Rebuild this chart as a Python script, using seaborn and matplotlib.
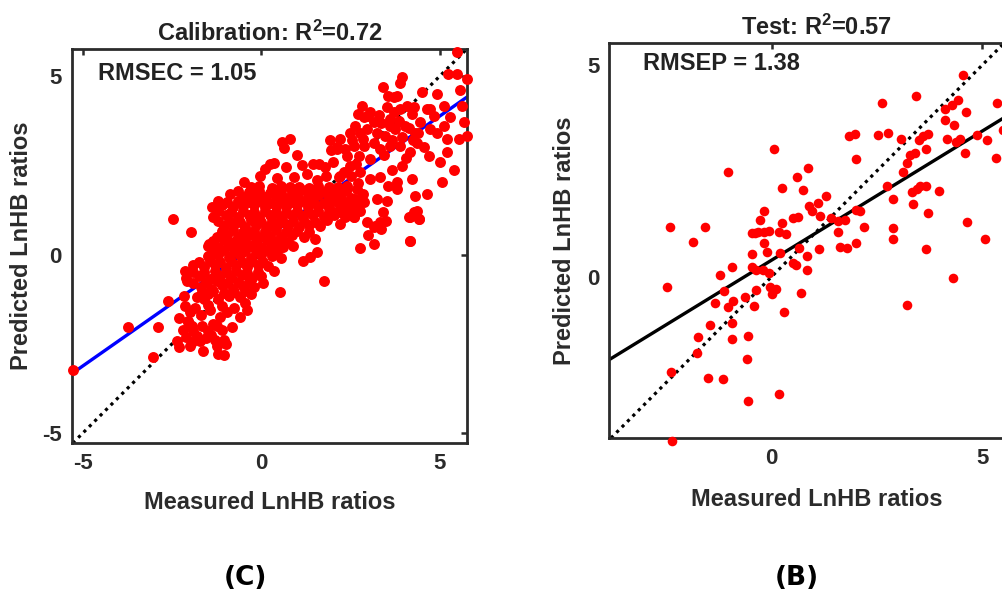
import pandas as pd
import matplotlib
matplotlib.use('Agg')
import matplotlib.pyplot as plt
import seaborn as sns

# Calibration set (left panel): measured vs predicted LnHB ratios
cal_measured = [
    -5.28, -3.72, -2.89, -3.03, -2.62, -2.47, -1.96, -1.47, -2.13, -2.08,
    -2.30, -2.00, -1.62, -1.25, -1.00, -1.22, -1.05, -2.36,
    -2.10, -1.80, -1.55, -1.30, -1.05, -1.71,
    -2.05, -1.90, -1.48, -1.25, -0.82, -1.94,
    -2.31, -2.04, -1.70, -1.34, -1.15, -0.95, -1.45,
    -2.15, -1.85, -1.50, -1.10, -0.75, -0.45, -0.40,
    -2.17, -1.80, -1.50, -1.20, -0.90, -0.60, -0.30, 0.53,
    -1.70, -1.40, -1.10, -0.80, -0.50, -0.20, 0.05, 1.75,
    -2.10, -1.75, -1.45, -1.15, -0.85, -0.55, -0.25, 0.00, 0.35,
    -1.90, -1.60, -1.30, -1.00, -0.70, -0.40, -0.10, 0.20,
    -1.50, -1.20, -0.90, -0.60, -0.30, 0.00, 0.30, 0.55, 1.17, 1.37, 1.56,
    -1.50, -1.20, -0.90, -0.60, -0.30, 0.00, 0.30, 0.60, 0.90,
    -1.25, -0.95, -0.65, -0.35, -0.05, 0.25, 0.55, 0.85, 1.20, 1.50,
    -1.05, -0.75, -0.45, -0.15, 0.15, 0.45, 0.75, 1.05, 1.35, 1.65, 2.20,
    -1.35, -1.00, -0.65, -0.35, -0.05, 0.25, 0.55, 0.85, 1.15, 1.45, 1.75, 2.05, 2.35, 2.60,
    -1.38, -1.10, -0.80, -0.50, -0.20, 0.10, 0.40, 0.70, 1.00, 1.30, 1.60, 1.90, 2.20, 2.50, 2.77,
    -0.87, -0.50, -0.20, 0.10, 0.40, 0.70, 1.00, 1.30, 1.60, 1.90, 2.20, 2.50,
    -0.30, -0.05, 0.30, 0.55, 0.80, 1.05, 1.35, 1.60, 1.90, 2.15, 2.40,
    -0.49, -0.03, 0.45, 0.91, 1.28, 1.55, 1.80, 2.17, 2.31,
    0.58, 0.81, 0.64, 1.00, 0.25, 0.35, 1.45, 1.61, 1.79, 1.92, 2.12, 1.94,
    2.77, 3.15, 4.16, 3.00, 3.19, 3.48, 3.34, 4.18, 4.41, 4.27, 2.59,
    2.82, 3.05, 2.87, 3.15, 2.63, 2.49, 2.77, 2.96, 3.24, 3.52,
    3.71, 3.61, 3.90, 4.08, 4.22, 4.03, 3.75, 3.47, 3.15, 2.87,
    2.59, 2.21, 2.12, 2.40, 2.73, 3.05, 3.33, 3.61, 3.90, 4.18,
    4.36, 4.32, 4.46, 4.64, 4.92, 4.50, 4.83, 5.11, 5.30, 5.11,
    4.92, 4.74, 5.20, 5.53, 5.67, 5.76, 5.62, 5.20, 5.39, 5.06,
    4.64, 4.22, 4.32, 4.36, 4.13, 4.41, 4.18, 3.52, 3.42, 3.24,
    3.80, 3.56, 3.33, 3.66, 3.80, 3.94, 3.05, 2.77, 2.49, 2.21,
    2.40, 2.68, 2.87, 2.59, 2.96, 3.15, 3.33, 2.12, 2.02, 2.31,
    5.48, 5.24, 5.48, 5.76, 3.94, 3.90, 3.42, 3.56, 3.80, 5.58, 3.71, 4.27, 4.74,
    -0.65, -0.35, -0.05, 0.25, 0.55, 0.85, 1.15, 1.45, 1.75, 2.05, 2.35,
    -1.20, -0.95, -0.65, -0.35, -0.05, 0.25, 0.55, 0.85, 1.15, 1.45, 1.75, 2.05, 2.35, 2.65,
    -1.20, -0.85, -0.50, -0.20, 0.10, 0.40, 0.70, 1.00, 1.30, 1.60, 1.90, 2.20, 2.45,
    -1.20, -0.90, -0.60, -0.30, 0.00, 0.30, 0.60, 0.90, 1.20, 1.50, 1.85,
    -1.10, -0.80, -0.50, -0.20, 0.10, 0.40, 0.70, 1.00, 1.35,
    -1.35, -1.05, -0.75, -0.45, -0.15, 0.15, 0.45, 0.75,
    -1.35, -1.05, -0.75, -0.45, -0.15, 0.15, 0.45,
    -1.75, -1.45, -1.15, -0.85, -0.55, -0.25, 0.05,
    -1.90, -1.60, -1.30, -1.00, -0.70, -0.40, -0.10,
    -1.55, -1.25, -0.95, -0.65, -0.35,
    -1.65, -1.35, -1.05, -0.75, -0.45,
    2.70, 3.00, 3.30, 3.60, 3.85, 4.15, 4.40, 2.55, 2.85, 3.35,
    3.65, 3.95, 4.25, 4.55, 2.35, 2.65, 3.45, 4.05, 4.70, 5.00,
    -2.20, -1.95, -1.65, -1.40, -1.10, -2.00, -1.60, -1.90, -0.60,
    0.10, 0.70, 1.15, 2.00, 2.50, 2.70, 2.85, 2.62,
]
cal_predicted = [
    -3.23, -2.02, -2.02, -2.86, -1.31, 0.99, 0.63, 0.30, -0.45, -0.73,
    -2.60, -2.55, -2.69, -2.55, -2.50, -2.78, -2.80, -2.41,
    -2.30, -2.27, -2.35, -2.40, -2.38, -2.41,
    -1.90, -2.13, -2.13, -2.00, -2.02, -1.99,
    -1.77, -1.85, -1.70, -1.94, -1.76, -1.60, -1.55,
    -1.43, -1.50, -1.40, -1.45, -1.50, -1.35, -1.55,
    -1.15, -1.20, -1.10, -1.25, -1.15, -1.20, -1.10, -1.06,
    -0.90, -0.95, -0.85, -0.95, -0.88, -0.92, -0.80, -0.75,
    -0.65, -0.60, -0.68, -0.60, -0.66, -0.58, -0.65, -0.60, -0.45,
    -0.30, -0.35, -0.30, -0.38, -0.30, -0.35, -0.28, -0.32,
    -0.05, 0.00, -0.08, -0.02, -0.10, 0.00, -0.05, -0.10, -0.17, -0.07, 0.07,
    0.25, 0.20, 0.28, 0.22, 0.25, 0.20, 0.27, 0.22, 0.25,
    0.50, 0.55, 0.50, 0.56, 0.48, 0.53, 0.50, 0.56, 0.50, 0.45,
    0.80, 0.85, 0.78, 0.82, 0.77, 0.84, 0.80, 0.76, 0.83, 0.80, 0.85,
    1.05, 1.10, 1.05, 1.12, 1.06, 1.10, 1.04, 1.10, 1.07, 1.12, 1.05, 1.10, 1.06, 1.05,
    1.33, 1.38, 1.32, 1.36, 1.40, 1.33, 1.37, 1.32, 1.38, 1.34, 1.36, 1.31, 1.37, 1.33, 1.23,
    1.70, 1.62, 1.65, 1.60, 1.64, 1.58, 1.63, 1.60, 1.66, 1.60, 1.62, 1.58,
    1.88, 1.92, 1.87, 1.93, 1.88, 1.90, 1.86, 1.92, 1.88, 1.90, 1.85,
    2.03, 2.20, 2.15, 2.17, 2.26, 2.10, 2.20, 2.17, 2.31,
    3.15, 3.24, 2.99, 2.80, 2.54, 2.57, 2.54, 2.54, 2.45, 3.20, 3.01, 2.92,
    0.18, 0.30, 0.39, 0.56, 0.81, 0.95, 0.72, 1.05, 1.00, 1.19, 1.05,
    4.17, 3.99, 3.85, 3.71, 3.61, 3.42, 3.42, 3.52, 3.42, 4.13,
    3.99, 3.80, 4.08, 4.17, 3.94, 3.61, 3.52, 3.33, 3.14, 3.05,
    3.05, 3.24, 2.96, 2.77, 2.77, 2.68, 2.96, 3.05, 3.05, 2.87,
    3.14, 3.42, 3.71, 4.08, 4.50, 4.55, 3.89, 4.17, 3.85, 3.61,
    3.42, 3.52, 3.24, 3.24, 3.71, 3.33, 4.17, 2.87, 2.36, 2.03,
    1.70, 2.12, 1.65, 1.23, 1.04, 0.99, 0.38, 1.51, 1.18, 1.56,
    1.84, 1.93, 2.17, 2.36, 2.03, 2.49, 2.12, 2.30, 2.49, 2.21,
    1.93, 1.84, 1.46, 1.27, 0.90, 0.76, 0.90, 1.56, 1.18, 1.18,
    5.67, 5.07, 5.06, 4.92, 4.97, 4.80, 4.69, 4.45, 4.45, 4.60, 4.41, 4.13, 4.08,
    1.78, 1.74, 1.79, 1.73, 1.77, 1.75, 1.80, 1.74, 1.76, 1.72, 1.78,
    1.49, 1.46, 1.50, 1.47, 1.51, 1.45, 1.49, 1.46, 1.50, 1.48, 1.45, 1.50, 1.47, 1.44,
    1.21, 1.18, 1.23, 1.19, 1.22, 1.20, 1.17, 1.22, 1.19, 1.23, 1.20, 1.18, 1.21,
    0.93, 0.95, 0.91, 0.96, 0.92, 0.94, 0.90, 0.95, 0.93, 0.91, 0.96,
    0.66, 0.68, 0.64, 0.67, 0.65, 0.69, 0.64, 0.66, 0.62,
    0.38, 0.40, 0.36, 0.39, 0.37, 0.41, 0.38, 0.35,
    0.10, 0.12, 0.08, 0.11, 0.09, 0.12, 0.10,
    -0.20, -0.18, -0.22, -0.19, -0.21, -0.17, -0.20,
    -0.48, -0.50, -0.46, -0.49, -0.47, -0.51, -0.48,
    -0.77, -0.75, -0.79, -0.76, -0.78,
    -1.05, -1.03, -1.07, -1.04, -1.02,
    3.95, 3.88, 3.90, 3.60, 3.75, 3.55, 3.40, 3.20, 3.25, 3.68,
    3.20, 3.30, 3.20, 3.00, 2.95, 2.55, 2.80, 2.70, 2.75, 2.60,
    -2.10, -2.45, -2.00, -2.25, -2.10, -1.60, -1.25, -0.80, -1.75,
    2.40, 2.45, 2.50, 2.60, 2.20, 2.00, 1.70, 1.55,
]

# Test set (right panel)
test_measured = [
    -2.41, -2.47, -2.39, -2.36, -1.87, -1.59, -1.03, -1.22, -1.12, -0.95,
    -1.35, -1.46, -1.75, -1.78, -1.52, -1.15, -1.04, -0.92, -0.95, -0.95,
    -0.63, -0.55, -0.59, -0.55, -0.42, -0.37, -0.47, -0.36, -0.47, -0.47,
    -0.32, -0.28, -0.18, -0.06, -0.18, -0.12, -0.21, -0.06, -0.04, 0.10,
    0.02, 0.06, 0.18, 0.24, 0.24, 0.34, 0.20, 0.30, 0.51, 0.62,
    0.50, 0.59, 0.69, 0.61, 0.75, 0.87, 0.89, 0.95, 1.11, 1.15,
    0.66, 0.83, 0.83, 1.13, 1.30, 1.40, 1.58, 1.58, 1.74, 1.62,
    1.78, 1.84, 1.97, 2.00, 2.00, 2.09, 2.19, 2.00, 2.61, 2.53,
    2.76, 2.73, 2.88, 2.88, 2.88, 3.21, 3.06, 3.12, 3.20, 3.28,
    3.40, 3.32, 3.36, 3.44, 3.51, 3.67, 3.42, 3.50, 3.59, 3.71,
    3.66, 3.71, 3.66, 3.97, 4.11, 4.12, 4.27, 4.42, 4.33, 4.15,
    4.38, 4.46, 4.58, 4.62, 4.54, 4.64, 4.30, 4.86, 5.11, 5.06,
    5.35, 5.33, 5.49, 0.17, -0.18, -0.40,
]
test_predicted = [
    1.18, -0.24, -2.25, -3.88, 0.81, 1.17, 2.46, 0.04, -0.34, 0.22,
    -0.63, -1.13, -1.43, -1.80, -2.39, -2.41, -0.72, -0.57, -1.10, -1.47,
    -0.47, -1.40, -1.95, -2.93, -0.69, -0.32, 0.22, 0.16, 0.54, 1.02,
    1.06, 1.34, 1.54, 1.08, 0.79, 0.59, 0.16, 0.08, -0.24, -0.28,
    -0.41, 3.01, 1.06, 2.09, 1.26, 1.00, 0.57, -0.83, 1.38, 1.40,
    0.32, 0.28, -0.39, 2.36, 2.05, 2.56, 1.67, 1.54, 1.75, 1.43,
    0.67, 0.49, 0.16, 0.65, 1.91, 1.39, 1.32, 1.06, 1.34, 0.71,
    0.67, 3.33, 3.37, 2.77, 1.58, 1.54, 1.18, 0.79, 4.11, 3.35,
    3.40, 2.14, 1.83, 1.14, 0.88, -0.68, 3.26, 2.46, 2.69, 2.88,
    2.93, 2.01, 1.71, 2.06, 2.13, 2.14, 4.27, 3.23, 3.31, 3.37,
    3.01, 1.51, 0.65, 2.03, 3.96, 3.70, 4.06, 4.18, 3.57, 3.26,
    3.19, 3.25, 2.92, 3.88, 4.75, 1.28, -0.02, 3.35, 3.23, 0.89,
    4.11, 2.80, 3.47, -2.76, 1.06, 1.04,
]

# fitted lines (slope, intercept) as seen in the picture
cal_fit = (0.70, 0.38)
test_fit = (0.61, 0.39)

titles = ['Calibration: R$^2$=0.72', 'Test: R$^2$=0.57']
notes = ['RMSEC = 1.05', 'RMSEP = 1.38']
panel_tags = ['(C)', '(B)']
x_label = 'Measured LnHB ratios'
y_label = 'Predicted LnHB ratios'

sns.set_theme(style='white')
plt.rcParams['font.family'] = ['Liberation Sans', 'DejaVu Sans']
plt.rcParams['font.weight'] = 'bold'
plt.rcParams['mathtext.fontset'] = 'custom'
plt.rcParams['mathtext.rm'] = 'Liberation Sans:bold'
plt.rcParams['mathtext.default'] = 'rm'
plt.rcParams['axes.unicode_minus'] = False

fig = plt.figure(figsize=(10.03, 5.90), dpi=100)
ax1 = fig.add_axes([0.0715, 0.249, 0.394, 0.668])
ax2 = fig.add_axes([0.6075, 0.2576, 0.414, 0.669])


def draw_panel(ax, mx, py, fit, line_color, size, xlim, ylim, ticks, title, note, note_xy):
    ax.axline((0, 0), slope=1, color='black', ls=(0, (1, 1.4)), lw=2.3, zorder=1)
    ax.axline((0, fit[1]), slope=fit[0], color=line_color, lw=2.4, zorder=2)
    df = pd.DataFrame({'measured': mx, 'predicted': py})
    sns.scatterplot(data=df, x='measured', y='predicted', ax=ax, color='#ff0000',
                    s=size, linewidth=0, zorder=3, clip_on=False)
    ax.set_xlim(*xlim)
    ax.set_ylim(*ylim)
    ax.set_xticks(ticks)
    ax.set_yticks(ticks)
    ax.tick_params(direction='in', length=4, width=1.8, top=True, right=True,
                   labelsize=16, colors='#2b2b2b', pad=7)
    for lab in ax.get_xticklabels() + ax.get_yticklabels():
        lab.set_fontweight('bold')
    for sp in ax.spines.values():
        sp.set_linewidth(2.0)
        sp.set_color('#2b2b2b')
    ax.set_title(title, fontsize=17, fontweight='bold', pad=6, color='#222222')
    ax.text(note_xy[0], note_xy[1], note, transform=ax.transAxes, fontsize=17,
            fontweight='bold', ha='left', va='center', color='#222222')
    ax.set_xlabel(x_label, fontsize=17, fontweight='bold', color='#2b2b2b')
    ax.set_ylabel(y_label, fontsize=17, fontweight='bold', color='#2b2b2b')
    ax.xaxis.label.set_va('center')
    ax.yaxis.label.set_va('center')


draw_panel(ax1, cal_measured, cal_predicted, cal_fit, '#0000ff', 62,
           (-5.31, 5.76), (-5.28, 5.76), [-5, 0, 5], titles[0], notes[0], (0.067, 0.939))
ax1.xaxis.set_label_coords(0.5, -0.152)
ax1.yaxis.set_label_coords(-0.126, 0.5)

draw_panel(ax2, test_measured, test_predicted, test_fit, 'black', 48,
           (-3.85, 6.0), (-3.81, 5.51), [0, 5], titles[1], notes[1], (0.081, 0.95))
ax2.xaxis.set_label_coords(0.5, -0.155)
ax2.yaxis.set_label_coords(-0.107, 0.5)

fig.text(245 / 1003, 1 - 578 / 590, panel_tags[0], fontsize=19, fontweight='bold',
         family='DejaVu Sans', ha='center', va='center', color='black')
fig.text(797 / 1003, 1 - 578 / 590, panel_tags[1], fontsize=19, fontweight='bold',
         family='DejaVu Sans', ha='center', va='center', color='black')

fig.savefig('out.png', dpi=100, facecolor='white')
